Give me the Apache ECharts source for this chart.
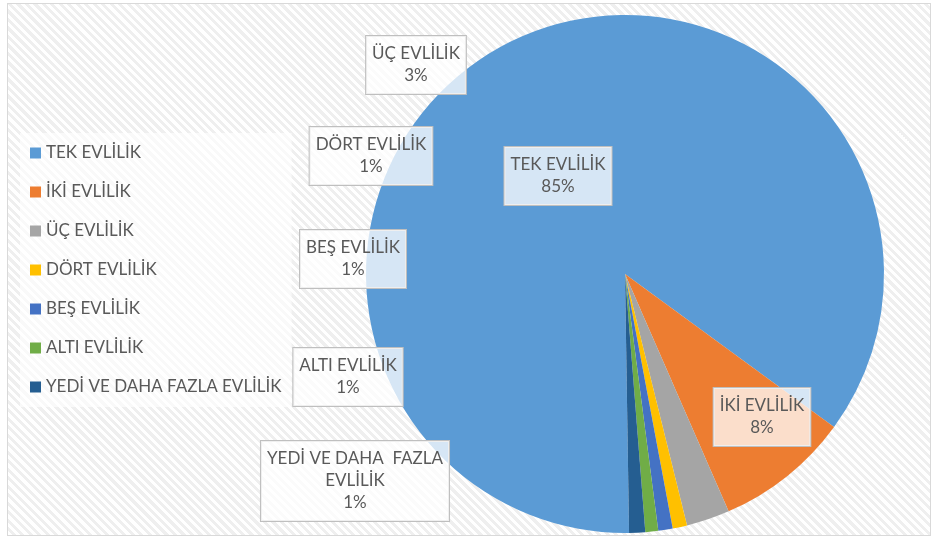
<!DOCTYPE html>
<html>
<head>
<meta charset="utf-8">
<script src="https://cdn.jsdelivr.net/npm/echarts@6/dist/echarts.min.js"></script>
<style>
  html, body { margin: 0; padding: 0; background: #ffffff; }
  #frame {
    position: absolute; left: 7px; top: 3px; width: 922px; height: 531px;
    border: 1px solid #d9d9d9;
    background: repeating-linear-gradient(45deg, #ffffff 0px, #ffffff 3px, #efefef 3px, #efefef 6px);
  }
  #chart { position: absolute; left: 0; top: 0; width: 936px; height: 539px; }
</style>
</head>
<body>
<div id="frame"></div>
<div id="chart"></div>
<script>
// ---- data ----
const categories = ["TEK EVLİLİK", "İKİ EVLİLİK", "ÜÇ EVLİLİK", "DÖRT EVLİLİK", "BEŞ EVLİLİK", "ALTI EVLİLİK", "YEDİ VE DAHA FAZLA EVLİLİK"];
const values = [85.3, 8.4, 2.7, 0.9, 0.9, 0.8, 1.0];
const colors = ["#5B9BD5", "#ED7D31", "#A5A5A5", "#FFC000", "#4472C4", "#70AD47", "#255E91"];

// ---- layout (label anchor centres, px) ----
const labelCentres = [[558, 176], [762, 417], [416, 65], [371, 156], [353, 259], [348, 377], [355, 481]];

const chart = echarts.init(document.getElementById('chart'));
const fontFamily = 'Lato, "Noto Sans", sans-serif';

chart.setOption({
  backgroundColor: 'transparent',
  animation: false,
  legend: {
    orient: 'vertical',
    left: 20,
    top: 133,
    padding: [11, 10, 11, 10],
    backgroundColor: 'rgba(255,255,255,0.6)',
    itemWidth: 11,
    itemHeight: 11,
    itemGap: 21,
    icon: 'rect',
    data: categories,
    textStyle: { color: '#595959', fontSize: 17, fontFamily: fontFamily, lineHeight: 18 }
  },
  series: [{
    type: 'pie',
    center: [625, 274],
    radius: 259,
    startAngle: 270.9,
    clockwise: true,
    data: categories.map((c, i) => ({ name: c, value: values[i], itemStyle: { color: colors[i] } })),
    itemStyle: { borderWidth: 0 },
    emphasis: { disabled: true },
    labelLine: { show: false },
    label: {
      show: true,
      position: 'inside',
      formatter: p => p.name.replace('FAZLA ', ' FAZLA\n') + '\n' + Math.round(p.percent) + '%',
      color: '#595959',
      fontSize: 17,
      fontFamily: fontFamily,
      lineHeight: 22,
      align: 'center',
      backgroundColor: 'rgba(255,255,255,0.75)',
      borderColor: '#bfbfbf',
      borderWidth: 1,
      padding: [7, 6, 7, 6]
    },
    labelLayout: function (params) {
      const c = labelCentres[params.dataIndex];
      return { x: c[0], y: c[1], align: 'center', verticalAlign: 'middle', hideOverlap: false };
    }
  }]
});
</script>
</body>
</html>
